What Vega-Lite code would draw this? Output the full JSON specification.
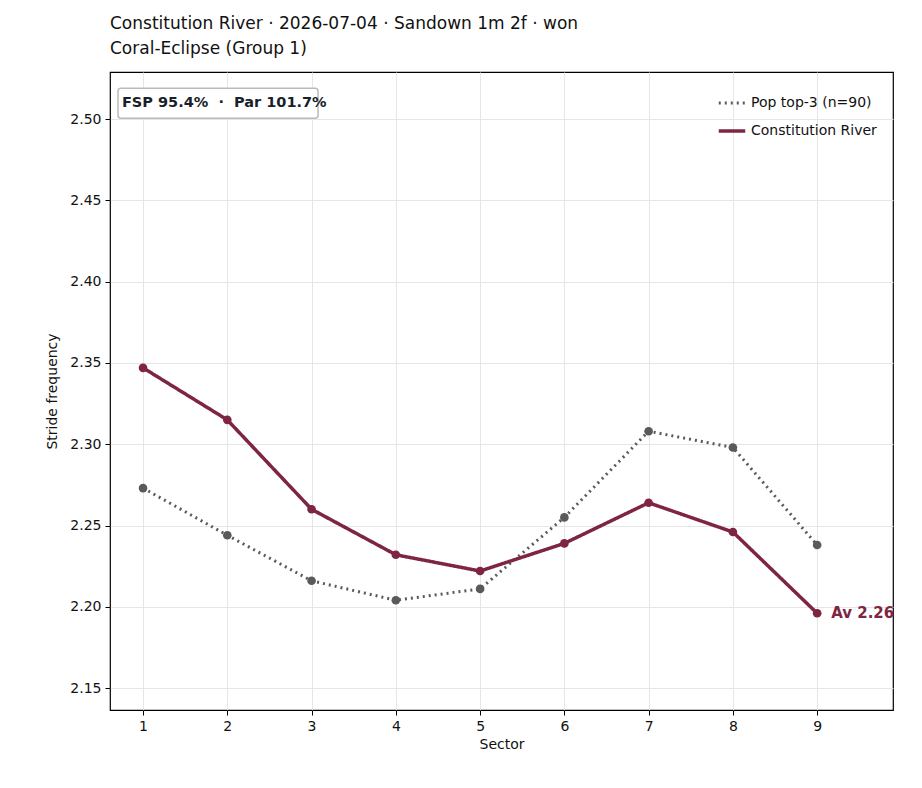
{
  "$schema": "https://vega.github.io/schema/vega-lite/v6.json",
  "width": 783,
  "height": 638,
  "autosize": "none",
  "padding": {"left": 110, "top": 72, "right": 29, "bottom": 78},
  "background": "white",
  "title": {
    "text": ["Constitution River · 2026-07-04 · Sandown 1m 2f · won", "Coral-Eclipse (Group 1)"],
    "anchor": "start",
    "frame": "group",
    "font": "DejaVu Sans",
    "fontSize": 17,
    "fontWeight": "normal",
    "color": "#111",
    "lineHeight": 25,
    "offset": 14
  },
  "datasets": {
    "series": [
      {"sector": 1, "sf": 2.273, "series": "Pop top-3 (n=90)"},
      {"sector": 2, "sf": 2.244, "series": "Pop top-3 (n=90)"},
      {"sector": 3, "sf": 2.216, "series": "Pop top-3 (n=90)"},
      {"sector": 4, "sf": 2.204, "series": "Pop top-3 (n=90)"},
      {"sector": 5, "sf": 2.211, "series": "Pop top-3 (n=90)"},
      {"sector": 6, "sf": 2.255, "series": "Pop top-3 (n=90)"},
      {"sector": 7, "sf": 2.308, "series": "Pop top-3 (n=90)"},
      {"sector": 8, "sf": 2.298, "series": "Pop top-3 (n=90)"},
      {"sector": 9, "sf": 2.238, "series": "Pop top-3 (n=90)"},
      {"sector": 1, "sf": 2.347, "series": "Constitution River"},
      {"sector": 2, "sf": 2.315, "series": "Constitution River"},
      {"sector": 3, "sf": 2.260, "series": "Constitution River"},
      {"sector": 4, "sf": 2.232, "series": "Constitution River"},
      {"sector": 5, "sf": 2.222, "series": "Constitution River"},
      {"sector": 6, "sf": 2.239, "series": "Constitution River"},
      {"sector": 7, "sf": 2.264, "series": "Constitution River"},
      {"sector": 8, "sf": 2.246, "series": "Constitution River"},
      {"sector": 9, "sf": 2.196, "series": "Constitution River"}
    ],
    "box": [{"x": 0.703, "x2": 3.077, "y": 2.519, "y2": 2.5006, "tx": 0.75, "ty": 2.51, "label": "FSP 95.4%\u00a0 · \u00a0Par 101.7%"}],
    "av": [{"sector": 9, "sf": 2.196, "label": "Av 2.26"}]
  },
  "config": {
    "font": "DejaVu Sans",
    "view": {"stroke": "black", "strokeWidth": 1.2}
  },
  "layer": [
    {
      "data": {"name": "box"},
      "mark": {"type": "rect", "fill": "white", "stroke": "#bbb", "strokeWidth": 1.5, "cornerRadius": 3},
      "encoding": {
        "x": {"field": "x", "type": "quantitative"},
        "x2": {"field": "x2"},
        "y": {"field": "y", "type": "quantitative"},
        "y2": {"field": "y2"}
      }
    },
    {
      "data": {"name": "box"},
      "mark": {"type": "text", "align": "left", "baseline": "middle", "fontWeight": "bold", "fontSize": 14.5, "color": "#1a1f2b"},
      "encoding": {
        "x": {"field": "tx", "type": "quantitative"},
        "y": {"field": "ty", "type": "quantitative"},
        "text": {"field": "label"}
      }
    },
    {
      "data": {"name": "series"},
      "mark": {"type": "line", "point": {"filled": true, "size": 75}},
      "encoding": {
        "x": {"field": "sector", "type": "quantitative", "title": "Sector",
          "scale": {"domain": [0.608, 9.9], "nice": false, "zero": false},
          "axis": {"values": [1, 2, 3, 4, 5, 6, 7, 8, 9], "format": "d", "labelFontSize": 14, "titleFontSize": 14, "titleFontWeight": "normal", "labelColor": "#111", "titleColor": "#111", "gridColor": "#e6e6e6", "domain": false, "tickColor": "black", "tickSize": 5, "labelPadding": 4}},
        "y": {"field": "sf", "type": "quantitative", "title": "Stride frequency",
          "scale": {"domain": [2.1365, 2.529], "nice": false, "zero": false},
          "axis": {"values": [2.15, 2.2, 2.25, 2.3, 2.35, 2.4, 2.45, 2.5], "format": ".2f", "labelFontSize": 14, "titleFontSize": 14, "titleFontWeight": "normal", "labelColor": "#111", "titleColor": "#111", "gridColor": "#e6e6e6", "domain": false, "tickColor": "black", "tickSize": 5, "labelPadding": 4, "titlePadding": 10}},
        "color": {"field": "series", "type": "nominal",
          "scale": {"domain": ["Pop top-3 (n=90)", "Constitution River"], "range": ["#5a5a5a", "#7d2541"]},
          "legend": {"title": null, "orient": "top-right", "labelFontSize": 14, "labelColor": "#111", "symbolType": "stroke", "symbolSize": 700, "symbolStrokeWidth": 3.5, "padding": 6, "rowPadding": 6, "offset": 10}},
        "strokeDash": {"field": "series", "type": "nominal",
          "scale": {"domain": ["Pop top-3 (n=90)", "Constitution River"], "range": [[2, 4], [1, 0]]}},
        "strokeWidth": {"field": "series", "type": "nominal",
          "scale": {"domain": ["Pop top-3 (n=90)", "Constitution River"], "range": [3, 3.5]}, "legend": null},
        "order": {"field": "sector"}
      }
    },
    {
      "data": {"name": "av"},
      "mark": {"type": "text", "align": "left", "baseline": "middle", "dx": 14, "fontWeight": "bold", "fontSize": 15, "color": "#7d2541"},
      "encoding": {
        "x": {"field": "sector", "type": "quantitative"},
        "y": {"field": "sf", "type": "quantitative"},
        "text": {"field": "label"}
      }
    }
  ]
}
